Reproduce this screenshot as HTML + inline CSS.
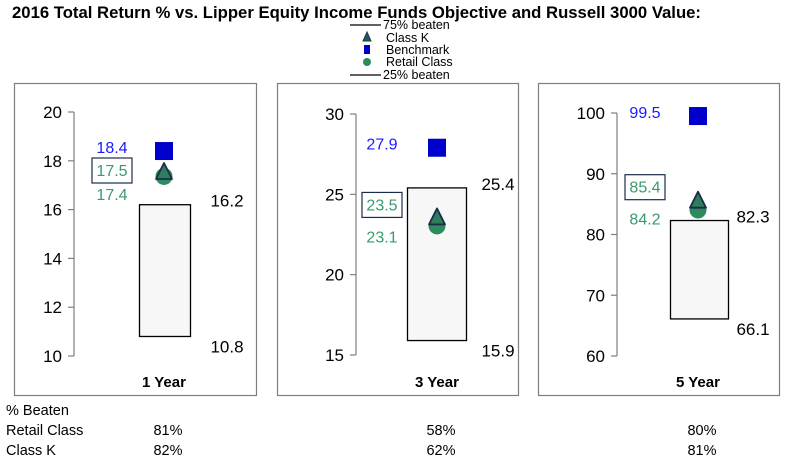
<!DOCTYPE html>
<html><head><meta charset="utf-8">
<style>
body{margin:0;background:#fff;width:787px;height:463px;overflow:hidden;font-family:"Liberation Sans",Arial,sans-serif}
svg{display:block}
</style></head><body>
<svg id="c" width="787" height="463" xmlns="http://www.w3.org/2000/svg" font-family="Liberation Sans, Arial, sans-serif">
<text x="12" y="18" font-size="17" font-weight="bold" fill="#000" textLength="689" lengthAdjust="spacingAndGlyphs">2016 Total Return % vs. Lipper Equity Income Funds Objective and Russell 3000 Value:</text>
<g font-size="12.5" fill="#000">
<line x1="350" y1="25" x2="381" y2="25" stroke="#000" stroke-width="1.2"/>
<text x="383" y="29">75% beaten</text>
<polygon points="367,32 371,41 363,41" fill="#1f5a4a" stroke="#1a3a5c"/>
<text x="386" y="42">Class K</text>
<rect x="364" y="45" width="6" height="9" fill="#0000cc"/>
<text x="386" y="54">Benchmark</text>
<circle cx="367" cy="62" r="4" fill="#2e8b5e"/>
<text x="386" y="66">Retail Class</text>
<line x1="350" y1="75" x2="381" y2="75" stroke="#000" stroke-width="1.2"/>
<text x="383" y="79">25% beaten</text>
</g>
<g id="panels"></g>
<g font-size="14.5" fill="#000">
<text x="6" y="415">% Beaten</text>
<text x="6" y="435">Retail Class</text>
<text x="6" y="455">Class K</text>
</g>
<g id="tbl" font-size="14.5" fill="#000" text-anchor="middle"></g>
</svg>
<script>
const periods = ["1 Year","3 Year","5 Year"];
const yMin = [10,15,60];
const yMax = [20,30,100];
const tickVals = [[10,12,14,16,18,20],[15,20,25,30],[60,70,80,90,100]];
const p75 = [16.2,25.4,82.3];
const p25 = [10.8,15.9,66.1];
const benchmark = [18.4,27.9,99.5];
const classK = [17.5,23.5,85.4];
const retail = [17.4,23.1,84.2];
const retailBeaten = ["81%","58%","80%"];
const classKBeaten = ["82%","62%","81%"];

const NS="http://www.w3.org/2000/svg";
const layout=[
 {bx:14,bw:242,ax:74,boxL:139,boxR:190,mx:164,lx:112,rx:227,top:112,bot:356,kOff:-3,gap:24},
 {bx:277,bw:241,ax:356,boxL:407,boxR:466,mx:437,lx:382,rx:498,top:114,bot:355,kOff:-14,gap:32},
 {bx:538,bw:241,ax:617,boxL:670,boxR:728,mx:698,lx:645,rx:753,top:113,bot:356,kOff:-15,gap:32}];
function mk(tag,attrs,parent,text){const e=document.createElementNS(NS,tag);for(const k in attrs)e.setAttribute(k,attrs[k]);if(text!==undefined)e.textContent=text;parent.appendChild(e);return e;}
const root=document.getElementById('panels');
const tbl=document.getElementById('tbl');
periods.forEach((p,i)=>{
 const L=layout[i];
 const y=v=>L.bot-(v-yMin[i])/(yMax[i]-yMin[i])*(L.bot-L.top);
 const g=mk('g',{},root);
 
 
 const fr=mk('rect',{x:L.bx+.5,y:83.5,width:L.bw,height:312,fill:'none',stroke:'#7f7f7f','stroke-width':1.2},g);
 
 
 const ax=mk('line',{x1:L.ax,y1:y(yMin[i]),x2:L.ax,y2:y(yMax[i]),stroke:'#7f7f7f','stroke-width':1.2},g);
 
 
 tickVals[i].forEach(t=>{
  mk('line',{x1:L.ax-6,y1:y(t),x2:L.ax,y2:y(t),stroke:'#7f7f7f','stroke-width':1.2},g);
  const tl=mk('text',{x:L.ax-12,y:y(t)+6,'font-size':17,'text-anchor':'end',fill:'#000'},g,String(t));
  
  
 });
 const bx=mk('rect',{x:L.boxL+.5,y:y(p75[i]),width:L.boxR-L.boxL,height:y(p25[i])-y(p75[i]),fill:'#f7f7f7',stroke:'#000','stroke-width':1.3},g);
 
 
 const t75=mk('text',{x:L.rx,y:y(p75[i])+2,'font-size':17,'text-anchor':'middle',fill:'#000'},g,p75[i].toFixed(1));
 
 
 const t25=mk('text',{x:L.rx,y:y(p25[i])+16,'font-size':17,'text-anchor':'middle',fill:'#000'},g,p25[i].toFixed(1));
 
 
 const sq=mk('rect',{x:L.mx-9,y:y(benchmark[i])-9,width:18,height:18,fill:'#0000cc'},g);
 
 
 const ci=mk('circle',{cx:L.mx,cy:y(retail[i])+1,r:8.5,fill:'#2e8b5e'},g);
 
 
 const cy=y(classK[i]);
 const tr=mk('polygon',{points:`${L.mx},${cy-10} ${L.mx+8},${cy+6} ${L.mx-8},${cy+6}`,fill:'#2e7d5e',stroke:'#1a2e4a','stroke-width':1.8,'stroke-linejoin':'round'},g);
 
 
 const bl=mk('text',{x:L.lx,y:y(benchmark[i])+2,'font-size':16,'text-anchor':'middle',fill:'#1a1aff'},g,benchmark[i].toFixed(1));
 
 
 const ky=cy+L.kOff;
 const kb=mk('rect',{x:L.lx-20,y:ky-12,width:40,height:25,fill:'none',stroke:'#1a2e4a','stroke-width':1.2},g);
 
 
 const kl=mk('text',{x:L.lx,y:ky+6,'font-size':16,'text-anchor':'middle',fill:'#3a9a6e'},g,classK[i].toFixed(1));
 
 
 const rl=mk('text',{x:L.lx,y:ky+6+L.gap,'font-size':16,'text-anchor':'middle',fill:'#3a9a6e'},g,retail[i].toFixed(1));
 
 
 const pl=mk('text',{x:L.mx,y:387,'font-size':15,'font-weight':'bold','text-anchor':'middle',fill:'#000'},g,p);
 
 
 const r1=mk('text',{x:L.mx+4,y:435},tbl,retailBeaten[i]);
 
 
 const r2=mk('text',{x:L.mx+4,y:455},tbl,classKBeaten[i]);
 
 
});
</script>
</body></html>
